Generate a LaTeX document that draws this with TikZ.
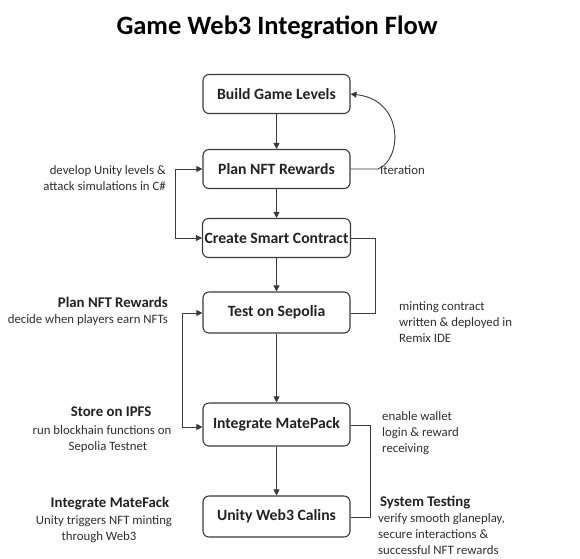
\documentclass[tikz,border=0pt]{standalone}
\usepackage{fontspec}
\setmainfont{Carlito}
\usetikzlibrary{arrows.meta}
\definecolor{ink}{HTML}{222222}
\definecolor{linec}{HTML}{3A3A3A}
\definecolor{txt}{HTML}{2E2E2E}
\begin{document}
\begin{tikzpicture}[x=1pt,y=-1pt,
  stepbox/.style={draw=linec,line width=1.1pt,rounded corners=6pt,minimum width=147pt,minimum height=39pt,font=\fontsize{15.7}{17}\selectfont\bfseries,text=ink,inner sep=2pt},
  conn/.style={draw=linec,line width=0.9pt},
  arr/.style={conn,-{Triangle[length=6pt,width=6pt]}},
  note/.style={font=\fontsize{12.8}{16}\selectfont,text=txt,inner sep=0pt},
  notehead/.style={font=\fontsize{14.8}{16}\selectfont\bfseries,text=ink,inner sep=0pt}]
\useasboundingbox (0,0) rectangle (580,558);
\node[font=\fontsize{26.5}{30}\selectfont\bfseries,text=black] (title) at (277,27) {Game Web3 Integration Flow};
\node[stepbox] (b1) at (276.5,94) {Build Game Levels};
\node[stepbox] (b2) at (276.5,169) {Plan NFT Rewards};
\node[stepbox] (b3) at (276.5,238) {Create Smart Contract};
\node[stepbox,minimum height=41pt] (b4) at (276.5,312.5) {Test on Sepolia};
\node[stepbox,minimum height=43pt] (b5) at (276.5,424.5) {Integrate MatePack};
\node[stepbox,minimum height=41pt] (b6) at (276.5,516.5) {Unity Web3 Calins};
\draw[arr] (b1) -- (b2);
\draw[arr] (b2) -- (b3);
\draw[arr] (b3) -- (b4);
\draw[arr] (b4) -- (b5);
\draw[arr] (b5) -- (b6);
% iteration loop
\coordinate (itA) at (378,169);
\draw[conn,-{Triangle[length=6pt,width=6pt]}] (b2.east) -- (itA) .. controls (402,160) and (405,100) .. (b1.east);
\node[note,anchor=west] (itlab) at (380,170) {Iteration};
% left loops
\coordinate (l1) at (175,169);
\coordinate (l2) at (175,238);
\draw[conn,{Triangle[length=6pt,width=6pt]}-{Triangle[length=6pt,width=6pt]}] (b2.west) -- (l1) -- (l2) -- (b3.west);
\coordinate (l3) at (182,313);
\coordinate (l4) at (182,427);
\draw[conn,{Triangle[length=6pt,width=6pt]}-{Triangle[length=6pt,width=6pt]}] (b4.west |- l3) -- (l3) -- (l4) -- (b5.west |- l4);
% right brackets
\coordinate (r1) at (375,238);
\coordinate (r2) at (375,313);
\draw[conn] (b3.east) -- (r1) -- (r2) -- (b4.east |- r2);
\coordinate (r3) at (370,425);
\coordinate (r4) at (370,517);
\draw[conn] (b5.east |- r3) -- (r3) -- (r4) -- (b6.east |- r4);
% notes
\node[note,align=right,anchor=east] (n1) at (166,178) {develop Unity levels \&\\attack simulations in C\#};
\node[notehead,anchor=east] (n2h) at (168,302) {Plan NFT Rewards};
\node[note,anchor=east] (n2) at (168,320) {decide when players earn NFTs};
\node[note,align=left,anchor=west] (n3) at (399,322) {minting contract\\written \& deployed in\\Remix IDE};
\node[notehead] (n4h) at (111,412) {Store on IPFS};
\node[note,align=center] (n4) at (102,439) {run blockhain functions on\\\hspace*{12pt}Sepolia Testnet};
\node[note,align=left,anchor=west] (n5) at (382,433) {enable wallet\\login \& reward\\receiving};
\node[notehead] (n6h) at (110,504) {Integrate MateFack};
\node[note,align=center] (n6) at (104,529) {Unity triggers NFT minting\\\hspace*{-10pt}through Web3};
\node[notehead,anchor=west] (n7h) at (380,503) {System Testing};
\node[note,align=left,anchor=west] (n7) at (378,534) {verify smooth glaneplay,\\secure interactions \&\\successful NFT rewards};
\end{tikzpicture}
\end{document}
